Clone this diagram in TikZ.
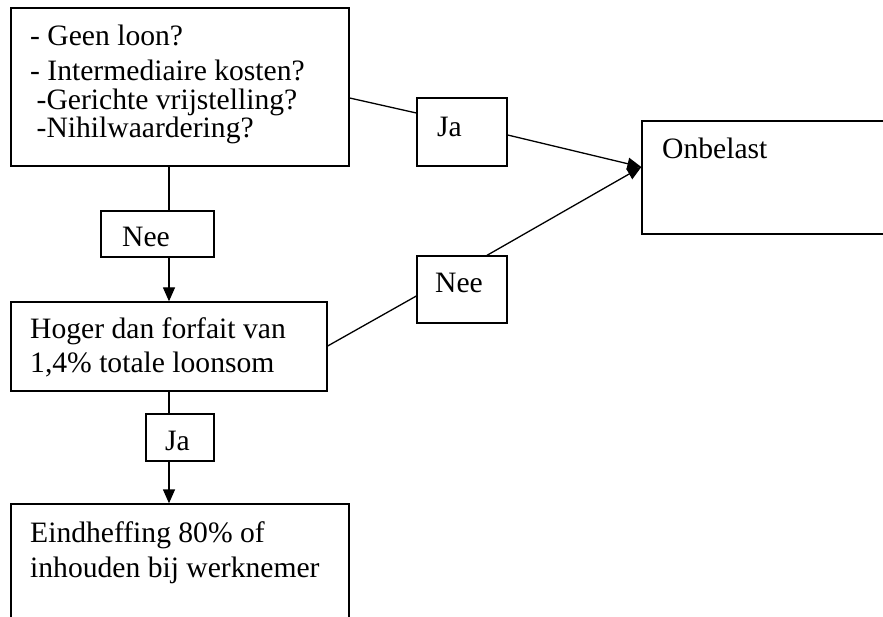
\documentclass[tikz,border=0pt]{standalone}
\usepackage{fontspec}
\setmainfont{Liberation Serif}
\usetikzlibrary{arrows.meta}
\begin{document}
\begin{tikzpicture}[x=1pt,y=-1pt,
  box/.style={draw, line width=1.3pt, rectangle, inner sep=0pt},
  txt/.style={anchor=base west, inner sep=0pt, font=\fontsize{29.6}{34}\selectfont},
  conn/.style={line width=1.3pt},
  arr/.style={conn, -{Triangle[length=14pt,width=12pt]}}]
\useasboundingbox (0,0) rectangle (883,617);
% boxes
\node[box, minimum width=338pt, minimum height=158pt] (top) at (180,87) {};
\node[box, minimum width=90pt, minimum height=68pt] (jatop) at (462,132) {};
\node[box, minimum width=258pt, minimum height=113pt] (onb) at (771,177.5) {};
\node[box, minimum width=90pt, minimum height=67pt] (neeR) at (462,289.5) {};
\node[box, minimum width=316pt, minimum height=89pt] (hoger) at (169,346.5) {};
\node[box, minimum width=113pt, minimum height=46pt] (neeL) at (157.5,234) {};
\node[box, minimum width=68pt, minimum height=47pt] (jaL) at (180,437.5) {};
\node[box, minimum width=338pt, minimum height=136pt] (eind) at (180,572) {};
% texts
\node[txt] (t1) at (30,46) {- Geen loon?};
\node[txt] (t2) at (30,80.5) {- Intermediaire kosten?};
\node[txt] (t3) at (36.5,110) {-Gerichte vrijstelling?};
\node[txt] (t4) at (36.5,138) {-Nihilwaardering?};
\node[txt] (tja1) at (437,137) {Ja};
\node[txt] (tonb) at (662,159) {Onbelast};
\node[txt] (tnee2) at (435,293) {Nee};
\node[txt] (tnee1) at (122,247) {Nee};
\node[txt] (th1) at (30,338) {Hoger dan forfait van};
\node[txt] (th2) at (30,373) {1,4\% totale loonsom};
\node[txt] (tja2) at (165,450) {Ja};
\node[txt] (te1) at (30,542) {Eindheffing 80\% of};
\node[txt] (te2) at (30,577) {inhouden bij werknemer};
% connectors
\draw[conn] (top.east |- 0,98) -- (jatop.west |- 0,113);
\draw[arr] (jatop.east |- 0,135) -- (onb.west |- 0,167);
\draw[conn] (hoger.east |- 0,346) -- (neeR.west |- 0,296);
\draw[arr] (487,0 |- neeR.north) -- (onb.west |- 0,167);
\draw[conn] (hoger.north |- top.south) -- (hoger.north |- neeL.north);
\draw[arr] (hoger.north |- neeL.south) -- (hoger.north);
\draw[conn] (hoger.south) -- (hoger.south |- jaL.north);
\draw[arr] (hoger.south |- jaL.south) -- (hoger.south |- eind.north);
\end{tikzpicture}
\end{document}
